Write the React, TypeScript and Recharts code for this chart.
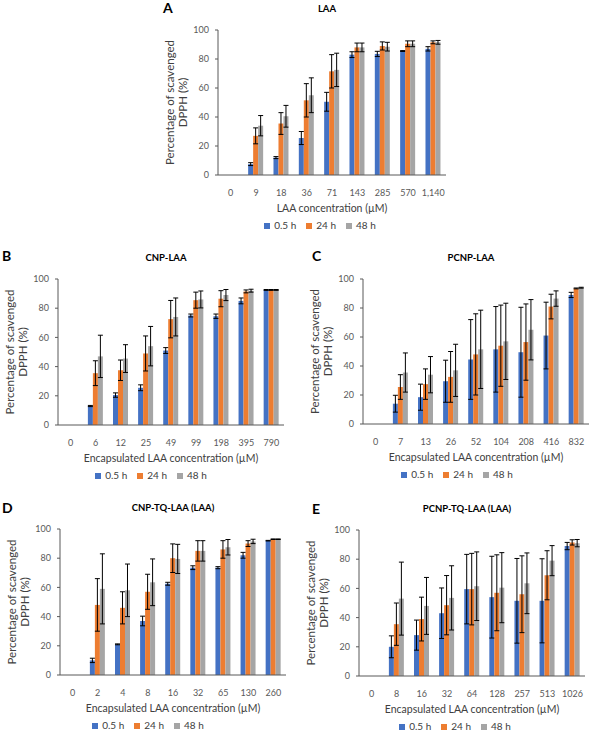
import { BarChart, Bar, XAxis, YAxis, ErrorBar, Legend } from 'recharts';

const BLUE = '#4472c4';
const ORANGE = '#ed7d31';
const GREY = '#a5a5a5';
const AXIS = '#595959';
const TEXT = '#404040';
const FONT = 'Lato, "Noto Sans", sans-serif';

const SERIES = ['0.5 h', '24 h', '48 h'];
const Y_TICKS = [0, 20, 40, 60, 80, 100];

// A - free LAA
const A_CONC = ['0', '9', '18', '36', '71', '143', '285', '570', '1,140'];
const A_05 = [0, 7.5, 12, 25.5, 50.5, 83, 83.5, 85.5, 87];
const A_24 = [0, 27, 35.5, 51.5, 71.5, 88, 89, 90.5, 91.5];
const A_48 = [0, 34, 40.5, 55, 72.5, 88, 88.5, 90.5, 91.5];
const A_05_ERR = [0, 1, 0.7, 4.5, 6.5, 2, 1.8, 0.3, 1.5];
const A_24_ERR = [0, 5.5, 7.5, 11.5, 11.5, 3, 2.8, 2, 1];
const A_48_ERR = [0, 7, 7.5, 12, 11.5, 3, 3, 2, 1.3];

// B - CNP-LAA
const B_CONC = ['0', '6', '12', '25', '49', '99', '198', '395', '790'];
const B_05 = [0, 13, 20.5, 25.5, 51, 75, 74.5, 85, 92.5];
const B_24 = [0, 35.5, 37.5, 49, 72.5, 85.5, 86.5, 91.5, 92.5];
const B_48 = [0, 47, 45.5, 54, 74, 86, 89, 92, 92.5];
const B_05_ERR = [0, 0.4, 1.5, 2, 2, 1, 1.5, 2, 0.3];
const B_24_ERR = [0, 8.5, 7, 12, 12.8, 5.5, 5.5, 1, 0.3];
const B_48_ERR = [0, 14.5, 9.5, 13.5, 13, 5.8, 3.8, 1, 0.3];

// C - PCNP-LAA
const C_CONC = ['0', '7', '13', '26', '52', '104', '208', '416', '832'];
const C_05 = [0, 14, 18.5, 29.5, 44.5, 51.5, 49.5, 61, 89];
const C_24 = [0, 25.5, 27.5, 32.5, 48, 54, 56.5, 81, 93.5];
const C_48 = [0, 35.5, 34, 37, 51.5, 57, 65, 86.5, 94];
const C_05_ERR = [0, 5.8, 9, 14.5, 27.5, 29.5, 31, 23, 1.8];
const C_24_ERR = [0, 8.5, 10.5, 17.5, 28, 28, 26.3, 8.5, 0.3];
const C_48_ERR = [0, 13.5, 12.5, 18, 27, 26.3, 20.8, 5.3, 0.3];

// D - CNP-TQ-LAA
const D_CONC = ['0', '2', '4', '8', '16', '32', '65', '130', '260'];
const D_05 = [0, 10, 21, 37, 62.5, 73.5, 73.5, 82, 92];
const D_24 = [0, 48, 46, 57, 80, 85, 86, 90, 93];
const D_48 = [0, 59, 58, 63.5, 79.5, 85, 87.5, 91.5, 93];
const D_05_ERR = [0, 1.5, 0.3, 3.3, 1, 1.3, 0.7, 2, 0.2];
const D_24_ERR = [0, 18, 11, 12, 9.8, 7, 6, 2, 0.2];
const D_48_ERR = [0, 24, 18, 16, 10, 7, 5.3, 1.5, 0.2];

// E - PCNP-TQ-LAA
const E_CONC = ['0', '8', '16', '32', '64', '128', '257', '513', '1026'];
const E_05 = [0, 20, 28, 43, 59.5, 54, 51.5, 51.5, 89];
const E_24 = [0, 35.5, 39, 48.5, 59.5, 57, 56, 69, 91.5];
const E_48 = [0, 53, 48, 53.5, 61.5, 60.5, 63.5, 79, 91];
const E_05_ERR = [0, 7.5, 10.3, 17.3, 23.8, 28, 29, 28.8, 2.5];
const E_24_ERR = [0, 14.5, 15, 20.3, 24.5, 26, 26.3, 16.8, 1.8];
const E_48_ERR = [0, 25, 19.5, 22, 23.5, 24, 20.8, 10.3, 2.5];

const rows = (conc: string[], v05: number[], v24: number[], v48: number[], e05: number[], e24: number[], e48: number[]) =>
  conc.map((c, i) => ({ conc: c, h05: v05[i], h24: v24[i], h48: v48[i], e05: e05[i], e24: e24[i], e48: e48[i] }));

const YW = 58;
const MT = 6;
const XH = 40;
const LEG = 22;

type PanelProps = {
  letter: string;
  letterPos: [number, number];
  title: string;
  titleX: number;
  xTitle: string;
  legendX: number;
  plot: { l: number; r: number; t: number; b: number };
  data: ReturnType<typeof rows>;
};

function YTitle(props: any) {
  const { viewBox } = props;
  const px = viewBox.x + viewBox.width;
  const cy = viewBox.y + viewBox.height / 2;
  return (
    <g>
      <text x={px - 49} y={cy} transform={`rotate(-90 ${px - 49} ${cy})`} textAnchor="middle" dominantBaseline="central" fontSize={11.5} fill={TEXT}>
        Percentage of scavenged
      </text>
      <text x={px - 36} y={cy} transform={`rotate(-90 ${px - 36} ${cy})`} textAnchor="middle" dominantBaseline="central" fontSize={11.5} fill={TEXT}>
        DPPH (%)
      </text>
    </g>
  );
}

function Panel({ letter, letterPos, title, titleX, xTitle, legendX, plot, data }: PanelProps) {
  const left = plot.l - YW;
  const top = plot.t - MT;
  const w = plot.r - plot.l + YW + 3;
  const h = MT + (plot.b - plot.t) + XH + LEG;
  const legW = 130;
  return (
    <>
      <div style={{ position: 'absolute', left: letterPos[0], top: letterPos[1], fontSize: 14, fontWeight: 700, color: '#000', lineHeight: '14px' }}>
        {letter}
      </div>
      <div
        style={{ position: 'absolute', left: titleX - 80, width: 160, top: plot.t - 27, textAlign: 'center', fontSize: 9.5, fontWeight: 700, color: '#000', lineHeight: '12px' }}
      >
        {title}
      </div>
      <div style={{ position: 'absolute', left, top }}>
        <BarChart width={w} height={h} data={data} margin={{ top: MT, right: 3, left: 0, bottom: LEG }} barCategoryGap="19%" barGap={0}>
          <XAxis
            dataKey="conc"
            height={XH}
            interval={0}
            tickLine={false}
            tickMargin={9}
            axisLine={{ stroke: AXIS }}
            tick={{ fontSize: 9, fill: AXIS }}
            label={{ value: xTitle, position: 'insideBottom', offset: 3, fontSize: 10.5, fill: TEXT }}
          />
          <YAxis
            domain={[0, 100]}
            ticks={Y_TICKS}
            width={YW}
            tickSize={3}
            tickMargin={6}
            axisLine={{ stroke: AXIS }}
            tickLine={{ stroke: AXIS }}
            tick={{ fontSize: 9, fill: AXIS }}
            label={{ content: YTitle }}
          />
          <Legend
            verticalAlign="middle"
            align="center"
            layout="horizontal"
            iconType="square"
            iconSize={6}
            wrapperStyle={{ top: plot.b - top + 43, left: legendX - left - legW / 2, width: legW, fontSize: 10, lineHeight: '14px' }}
            formatter={(v) => <span style={{ color: TEXT }}>{v}</span>}
          />
          <Bar dataKey="h05" name={SERIES[0]} fill={BLUE} isAnimationActive={false}>
            <ErrorBar dataKey="e05" width={2.5} stroke="#000" strokeWidth={1} direction="y" />
          </Bar>
          <Bar dataKey="h24" name={SERIES[1]} fill={ORANGE} isAnimationActive={false}>
            <ErrorBar dataKey="e24" width={2.5} stroke="#000" strokeWidth={1} direction="y" />
          </Bar>
          <Bar dataKey="h48" name={SERIES[2]} fill={GREY} isAnimationActive={false}>
            <ErrorBar dataKey="e48" width={2.5} stroke="#000" strokeWidth={1} direction="y" />
          </Bar>
        </BarChart>
      </div>
    </>
  );
}

export default function App() {
  return (
    <div style={{ position: 'absolute', left: 0, top: 0, width: 591, height: 731, background: '#fff', fontFamily: FONT, overflow: 'hidden' }}>
      <Panel
        letter="A"
        letterPos={[163, 1]}
        title="LAA"
        titleX={327}
        xTitle="LAA concentration (µM)"
        legendX={325}
        plot={{ l: 218, r: 446, t: 30, b: 175 }}
        data={rows(A_CONC, A_05, A_24, A_48, A_05_ERR, A_24_ERR, A_48_ERR)}
      />
      <Panel
        letter="B"
        letterPos={[2, 249]}
        title="CNP-LAA"
        titleX={166}
        xTitle="Encapsulated LAA concentration (µM)"
        legendX={156}
        plot={{ l: 58, r: 284, t: 279, b: 425 }}
        data={rows(B_CONC, B_05, B_24, B_48, B_05_ERR, B_24_ERR, B_48_ERR)}
      />
      <Panel
        letter="C"
        letterPos={[312, 249]}
        title="PCNP-LAA"
        titleX={471}
        xTitle="Encapsulated LAA concentration (µM)"
        legendX={462}
        plot={{ l: 363, r: 589, t: 279, b: 424 }}
        data={rows(C_CONC, C_05, C_24, C_48, C_05_ERR, C_24_ERR, C_48_ERR)}
      />
      <Panel
        letter="D"
        letterPos={[2, 501]}
        title="CNP-TQ-LAA (LAA)"
        titleX={173}
        xTitle="Encapsulated LAA concentration (µM)"
        legendX={153}
        plot={{ l: 60, r: 286, t: 529, b: 675 }}
        data={rows(D_CONC, D_05, D_24, D_48, D_05_ERR, D_24_ERR, D_48_ERR)}
      />
      <Panel
        letter="E"
        letterPos={[312, 502]}
        title="PCNP-TQ-LAA (LAA)"
        titleX={467}
        xTitle="Encapsulated LAA concentration (µM)"
        legendX={460}
        plot={{ l: 359, r: 585, t: 530, b: 676 }}
        data={rows(E_CONC, E_05, E_24, E_48, E_05_ERR, E_24_ERR, E_48_ERR)}
      />
    </div>
  );
}
